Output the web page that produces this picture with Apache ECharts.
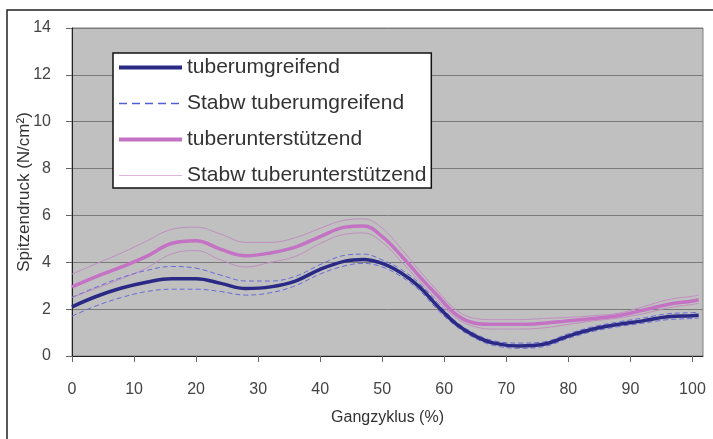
<!DOCTYPE html>
<html>
<head>
<meta charset="utf-8">
<script src="https://cdn.jsdelivr.net/npm/echarts@6/dist/echarts.min.js"></script>
<style>
  html, body { margin: 0; padding: 0; background: #fff; }
  #chart { width: 713px; height: 439px; }
</style>
</head>
<body>
<div id="chart"></div>
<script>
// Gangzyklus (%) positions of the sampled points
var cycle = [0, 4, 8, 12, 16, 20, 24, 28, 32, 36, 40, 44, 47, 50, 53, 56, 59, 62, 65, 68, 72, 76, 80, 84, 88, 92, 96, 100, 101];

// tuberumgreifend: mean and +/- Stabw
var umgMean  = [2.1, 2.55, 2.9, 3.15, 3.3, 3.3, 3.1, 2.88, 2.95, 3.2, 3.7, 4.05, 4.12, 3.95, 3.55, 2.95, 2.1, 1.35, 0.85, 0.55, 0.43, 0.5, 0.85, 1.15, 1.35, 1.5, 1.68, 1.72, 1.74];
var umgUpper = [2.5, 2.95, 3.35, 3.65, 3.82, 3.75, 3.45, 3.2, 3.2, 3.4, 3.9, 4.3, 4.35, 4.1, 3.7, 3.1, 2.25, 1.45, 0.95, 0.65, 0.55, 0.6, 0.95, 1.25, 1.45, 1.62, 1.8, 1.85, 1.87];
var umgLower = [1.7, 2.15, 2.5, 2.75, 2.85, 2.85, 2.75, 2.6, 2.7, 3.0, 3.5, 3.85, 3.95, 3.8, 3.4, 2.8, 1.95, 1.25, 0.75, 0.45, 0.33, 0.4, 0.75, 1.05, 1.25, 1.4, 1.55, 1.6, 1.62];

// tuberunterstützend: mean and +/- Stabw
var untMean  = [2.95, 3.4, 3.8, 4.25, 4.8, 4.92, 4.55, 4.28, 4.4, 4.65, 5.1, 5.5, 5.55, 5.1, 4.3, 3.4, 2.55, 1.75, 1.4, 1.35, 1.35, 1.4, 1.5, 1.6, 1.72, 1.95, 2.2, 2.35, 2.4];
var untUpper = [3.5, 3.95, 4.4, 4.9, 5.4, 5.5, 5.2, 4.85, 4.85, 5.05, 5.45, 5.8, 5.85, 5.45, 4.6, 3.65, 2.75, 1.95, 1.6, 1.55, 1.55, 1.6, 1.65, 1.72, 1.82, 2.1, 2.4, 2.55, 2.6];
var untLower = [2.5, 2.9, 3.3, 3.75, 4.35, 4.5, 4.1, 3.8, 4.0, 4.25, 4.8, 5.2, 5.25, 4.85, 4.05, 3.2, 2.35, 1.6, 1.25, 1.15, 1.15, 1.2, 1.35, 1.5, 1.62, 1.8, 2.05, 2.2, 2.25];

var xTicks = [0, 10, 20, 30, 40, 50, 60, 70, 80, 90, 100];

function pairs(ys) {
    return cycle.map(function (x, i) { return [x, ys[i]]; });
}

var chart = echarts.init(document.getElementById('chart'));

var labelFont = 'Liberation Sans, Arial, sans-serif';

function lineSeries(name, ys, color, width, type, z) {
    return {
        name: name,
        type: 'line',
        data: pairs(ys),
        smooth: 0.4,
        symbol: 'none',
        z: z,
        lineStyle: { color: color, width: width, type: type },
        itemStyle: { color: color },
        emphasis: { disabled: true }
    };
}

chart.setOption({
    animation: false,
    backgroundColor: '#fff',
    graphic: [{
        type: 'rect',
        shape: { x: 7, y: 10, width: 720, height: 440 },
        style: { fill: 'none', stroke: '#222', lineWidth: 1.5 },
        z: -1
    }],
    grid: {
        left: 72, top: 28, right: 10, bottom: 83,
        show: true,
        backgroundColor: '#c0c0c0',
        borderColor: '#808080',
        borderWidth: 1
    },
    legend: {
        orient: 'vertical',
        left: 113, top: 53,
        padding: [4, 5, 2, 4],
        itemWidth: 63, itemHeight: 20, itemGap: 15,
        backgroundColor: '#fff',
        borderColor: '#111',
        borderWidth: 1.5,
        itemStyle: { opacity: 0 },
        textStyle: { fontFamily: labelFont, fontSize: 21, color: '#333' },
        data: [
            { name: 'tuberumgreifend', lineStyle: { width: 4 } },
            { name: 'Stabw tuberumgreifend', lineStyle: { width: 1.5, type: [8, 5], color: '#4f5fd4' } },
            { name: 'tuberunterstützend', lineStyle: { width: 4 } },
            { name: 'Stabw tuberunterstützend', lineStyle: { width: 1, color: '#e0b4e0' } }
        ]
    },
    xAxis: {
        type: 'value',
        min: 0, max: 101.7,
        name: 'Gangzyklus (%)',
        nameLocation: 'middle',
        nameGap: 54,
        nameMoveOverlap: false,
        nameTextStyle: { fontFamily: labelFont, fontSize: 16, color: '#333' },
        axisLine: { show: true, lineStyle: { color: '#222', width: 1 } },
        axisTick: { show: true, length: 6, lineStyle: { color: '#666' }, customValues: xTicks },
        axisLabel: { margin: 26, fontFamily: labelFont, fontSize: 16, color: '#444', customValues: xTicks },
        splitLine: { show: false }
    },
    yAxis: {
        type: 'value',
        min: 0, max: 14, interval: 2,
        name: 'Spitzendruck (N/cm²)',
        nameLocation: 'middle',
        nameGap: 39,
        nameMoveOverlap: false,
        nameTextStyle: { fontFamily: labelFont, fontSize: 17, color: '#333' },
        axisLine: { show: true, lineStyle: { color: '#222', width: 1 } },
        axisTick: { show: true, length: 6, lineStyle: { color: '#666' } },
        axisLabel: { margin: 21, fontFamily: labelFont, fontSize: 16, color: '#444' },
        splitLine: { show: true, lineStyle: { color: '#7a7a7a', width: 1 } }
    },
    series: [
        lineSeries('tuberumgreifend', umgMean, '#2a2a86', 3.5, 'solid', 5),
        lineSeries('Stabw tuberumgreifend', umgUpper, '#6a6ad8', 1, [5, 3], 3),
        lineSeries('Stabw tuberumgreifend', umgLower, '#6a6ad8', 1, [5, 3], 3),
        lineSeries('tuberunterstützend', untMean, '#c472c4', 3.5, 'solid', 4),
        lineSeries('Stabw tuberunterstützend', untUpper, '#c08ec0', 1, 'solid', 2),
        lineSeries('Stabw tuberunterstützend', untLower, '#c08ec0', 1, 'solid', 2)
    ]
});
</script>
</body>
</html>
